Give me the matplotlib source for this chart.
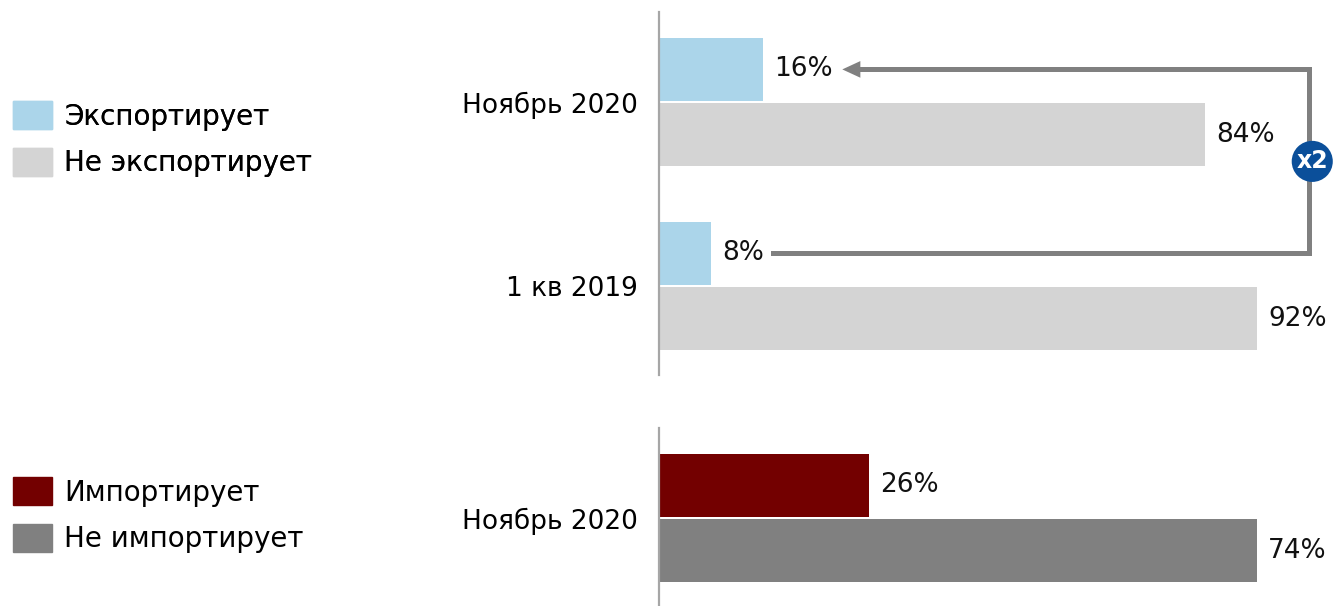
import matplotlib.pyplot as plt
from matplotlib.patches import Patch

plt.rcParams['font.family'] = ['DejaVu Sans']

# экспорт: доли компаний, %
export_periods = ['Ноябрь 2020', '1 кв 2019']
export_yes = [16, 8]
export_no = [84, 92]

# импорт
import_periods = ['Ноябрь 2020']
import_yes = [26]
import_no = [74]

export_labels = ['Экспортирует', 'Не экспортирует']
import_labels = ['Импортирует', 'Не импортирует']
growth_text = 'x2'

c_exp = '#abd5ea'
c_noexp = '#d4d4d4'
c_imp = '#730000'
c_noimp = '#808080'
c_arrow = '#808080'
c_badge = '#0b4f9a'

W, H = 1336, 606
fig = plt.figure(figsize=(W / 100, H / 100), dpi=100)

# оси в пикселях: левый край 659, ширина 650
ax_left = 659 / W
ax_w = 650 / W
ax_top = fig.add_axes([ax_left, (H - 375) / H, ax_w, 363 / H])
ax_bot = fig.add_axes([ax_left, 0, ax_w, 178 / H])

h = 0.342
off = h / 2 + 0.006


def draw_group(ax, periods, yes, no, c_yes, c_no, xmax, ylim):
    pos = list(range(len(periods)))[::-1]
    y_yes = [p + off for p in pos]
    y_no = [p - off for p in pos]
    b1 = ax.barh(y_yes, yes, height=h, color=c_yes)
    b2 = ax.barh(y_no, no, height=h, color=c_no)
    for bars, vals in ((b1, yes), (b2, no)):
        for bar, v in zip(bars, vals):
            ax.annotate(f'{v}%', (bar.get_width(), bar.get_y() + bar.get_height() / 2),
                        xytext=(8, 0), textcoords='offset points',
                        va='center', ha='left', fontsize=19, color='#111111',
                        annotation_clip=False)
    ax.set_xlim(0, xmax)
    ax.set_ylim(*ylim)
    ax.set_yticks(pos)
    ax.set_yticklabels(periods, fontsize=19)
    ax.tick_params(axis='y', length=0, pad=15)
    ax.set_xticks([])
    for s in ('top', 'right', 'bottom'):
        ax.spines[s].set_visible(False)
    ax.spines['left'].set_color('#a6a6a6')
    ax.spines['left'].set_linewidth(1.6)
    ax.patch.set_alpha(0)
    return y_yes


y_exp = draw_group(ax_top, export_periods, export_yes, export_no, c_exp, c_noexp,
                   100, (-0.484, 1.489))
draw_group(ax_bot, import_periods, import_yes, import_no, c_imp, c_noimp,
           80.4, (-0.478, 0.489))

# стрелка роста от 1 кв 2019 к ноябрю 2020
y_new, y_old = y_exp[0], y_exp[1]
ax_top.plot([17.5, 100, 100, 31], [y_old, y_old, y_new, y_new],
            color=c_arrow, lw=3.6, solid_joinstyle='miter', clip_on=False)
ax_top.annotate('', xy=(28.2, y_new), xytext=(31.5, y_new),
                arrowprops=dict(arrowstyle='-|>,head_length=0.65,head_width=0.3',
                                mutation_scale=20, color=c_arrow, lw=0,
                                shrinkA=0, shrinkB=0),
                annotation_clip=False)
ax_top.text(100.5, (y_new + y_old) / 2, growth_text, color='white', fontsize=17,
            fontweight='bold', ha='center', va='center', clip_on=False,
            bbox=dict(boxstyle='circle,pad=0.2', fc=c_badge, ec='none'))

# легенды
leg_kw = dict(loc='upper left', frameon=False, fontsize=20,
              handlelength=1.4, handleheight=1.2, handletextpad=0.45,
              labelspacing=0.62, borderaxespad=0, borderpad=0)
leg1 = fig.legend(handles=[Patch(color=c_exp), Patch(color=c_noexp)],
                  labels=export_labels, bbox_to_anchor=(13 / W, 1 - 101 / H), **leg_kw)
fig.legend(handles=[Patch(color=c_imp), Patch(color=c_noimp)],
           labels=import_labels, bbox_to_anchor=(13 / W, 1 - 477 / H), **leg_kw)
fig.add_artist(leg1)

fig.savefig('out.png', dpi=100)
